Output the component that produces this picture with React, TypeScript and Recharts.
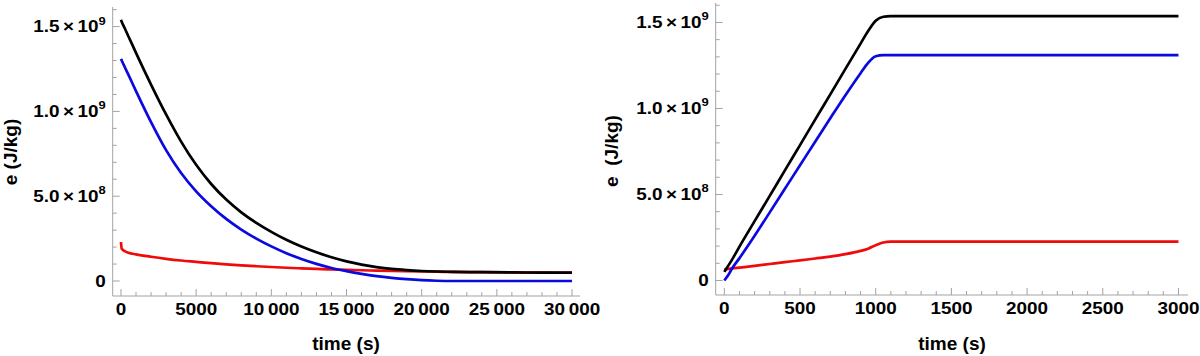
import React from 'react';
import { LineChart, Line, XAxis, YAxis } from 'recharts';

// ---------- data (energy values in units of 1e9 J/kg) ----------
const UNIT = 1e9;

// Left panel: decay over 0 – 30 000 s
const decayTime = [0, 50, 250, 500, 1000, 2000, 3000, 4000, 5000, 6000, 7000, 8000, 9000, 10000, 11000, 12000, 13000, 14000, 15000, 16000, 17000, 18000, 19000, 20000, 21000, 22000, 24000, 26000, 28000, 30000];
const decayBlack = [1.54, 1.528, 1.49, 1.442, 1.345, 1.158, 0.982, 0.822, 0.685, 0.572, 0.48, 0.405, 0.343, 0.29, 0.243, 0.203, 0.169, 0.14, 0.116, 0.097, 0.082, 0.071, 0.064, 0.059, 0.056, 0.054, 0.0522, 0.0507, 0.0497, 0.049];
const decayBlue = [1.31, 1.30, 1.262, 1.215, 1.12, 0.937, 0.772, 0.637, 0.529, 0.441, 0.366, 0.303, 0.25, 0.204, 0.164, 0.13, 0.101, 0.077, 0.058, 0.042, 0.029, 0.019, 0.011, 0.005, 0.0015, 0, 0, 0, 0, 0];
const decayRed = [0.23, 0.19, 0.176, 0.166, 0.157, 0.143, 0.131, 0.121, 0.113, 0.105, 0.098, 0.092, 0.087, 0.0825, 0.0783, 0.0745, 0.0712, 0.0683, 0.0657, 0.0633, 0.0612, 0.0593, 0.0576, 0.0561, 0.0548, 0.0537, 0.0518, 0.0504, 0.0494, 0.0488];

// Right panel: growth over 0 – 3000 s
const growthTime = [0, 25, 50, 100, 200, 300, 400, 500, 600, 700, 800, 900, 950, 1000, 1050, 1100, 1500, 2000, 2500, 3000];
const growthBlack = [0.05, 0.085, 0.12, 0.197, 0.345, 0.492, 0.64, 0.787, 0.935, 1.082, 1.23, 1.377, 1.45, 1.51, 1.533, 1.537, 1.537, 1.537, 1.537, 1.537];
const growthBlue = [0, 0.03, 0.068, 0.13, 0.26, 0.396, 0.533, 0.67, 0.807, 0.943, 1.077, 1.205, 1.265, 1.303, 1.31, 1.31, 1.31, 1.31, 1.31, 1.31];
const growthRed = [0.065, 0.067, 0.07, 0.075, 0.085, 0.096, 0.107, 0.117, 0.128, 0.139, 0.153, 0.172, 0.185, 0.205, 0.221, 0.226, 0.226, 0.226, 0.226, 0.226];

// ticks
const leftXTicks = Array.from({ length: 31 }, (_, i) => i * 1000);
const leftXMajors = [0, 5000, 10000, 15000, 20000, 25000, 30000];
const leftXLabels = ['0', '5000', '10\u2009000', '15\u2009000', '20\u2009000', '25\u2009000', '30\u2009000'];
const leftTopTicks = Array.from({ length: 16 }, (_, i) => i * 2000);
const leftTopMajors = [0, 10000, 20000, 30000];

const rightXTicks = Array.from({ length: 31 }, (_, i) => i * 100);
const rightXMajors = [0, 500, 1000, 1500, 2000, 2500, 3000];
const rightXLabels = ['0', '500', '1000', '1500', '2000', '2500', '3000'];
const rightTopTicks = Array.from({ length: 16 }, (_, i) => i * 200);
const rightTopMajors = [0, 1000, 2000, 3000];

const yTicks = Array.from({ length: 17 }, (_, i) => i * 1e8);
const yMajors = [0, 5e8, 1e9, 1.5e9];
const yMantissa = ['0', '5.0', '1.0', '1.5'];
const yExponent = ['', '8', '9', '9'];

const titleX = 'time (s)';
const titleYLeft = 'e (J/kg)';
const titleYRight = 'e\u00a0 (J/kg)';

// ---------- styling ----------
const FONT = '"Liberation Sans", Arial, Helvetica, sans-serif';
const FRAME = '#a3a3a3';
const SX = 1.18;
const BLACK = '#000000';
const BLUE = '#0a0ae0';
const RED = '#ee0b0b';
const LW = 2.7;

const rows = (t: number[], k: number[], b: number[], r: number[]) =>
  t.map((tt, i) => ({ t: tt, black: k[i] * UNIT, blue: b[i] * UNIT, red: r[i] * UNIT }));
const decayRows = rows(decayTime, decayBlack, decayBlue, decayRed);
const growthRows = rows(growthTime, growthBlack, growthBlue, growthRed);

const majorIndex = (majors: number[], v: number) => majors.findIndex((m) => Math.abs(m - v) < 1e-6 * Math.max(1, Math.abs(m)));

function TickBottom(p: any) {
  const { x, y, payload, majors, labels } = p;
  const idx = majorIndex(majors, payload.value);
  const major = idx >= 0;
  return (
    <g>
      <line x1={x} x2={x} y1={y} y2={y - (major ? 7 : 4)} stroke={FRAME} strokeWidth={1} />
      {major && (
        <text transform={`translate(${x},${y + 19}) scale(${SX},1)`} textAnchor="middle" fontFamily={FONT} fontWeight="bold" fontSize={16} fill="#000">
          {labels[idx]}
        </text>
      )}
    </g>
  );
}

function TickTop(p: any) {
  const { x, y, payload, majors } = p;
  const major = majorIndex(majors, payload.value) >= 0;
  return <line x1={x} x2={x} y1={y} y2={y + (major ? 7 : 4)} stroke={FRAME} strokeWidth={1} />;
}

function TickLeft(p: any) {
  const { x, y, payload } = p;
  const idx = majorIndex(yMajors, payload.value);
  const major = idx >= 0;
  return (
    <g>
      <line x1={x} x2={x + (major ? 7 : 4)} y1={y} y2={y} stroke={FRAME} strokeWidth={1} />
      {major && (
        <text transform={`translate(${x - 7},${y + 5.5}) scale(${SX},1)`} textAnchor="end" fontFamily={FONT} fontWeight="bold" fontSize={16} fill="#000">
          <tspan>{yMantissa[idx]}</tspan>
          {yExponent[idx] !== '' && <tspan dx={3}>×</tspan>}
          {yExponent[idx] !== '' && <tspan dx={3}>10</tspan>}
          {yExponent[idx] !== '' && (
            <tspan dy={-7.5} fontSize={11}>
              {yExponent[idx]}
            </tspan>
          )}
        </text>
      )}
    </g>
  );
}

function TickRight(p: any) {
  const { x, y, payload } = p;
  const major = majorIndex(yMajors, payload.value) >= 0;
  return <line x1={x} x2={x - (major ? 7 : 4)} y1={y} y2={y} stroke={FRAME} strokeWidth={1} />;
}

type PanelProps = {
  data: any[];
  xDomain: [number, number];
  yDomain: [number, number];
  xTicks: number[];
  xMajors: number[];
  xLabels: string[];
  topTicks: number[];
  topMajors: number[];
  margin: { top: number; right: number; bottom: number; left: number };
  xAxisHeight: number;
};

function Panel(props: PanelProps) {
  const { data, xDomain, yDomain, xTicks, xMajors, xLabels, topTicks, topMajors, margin, xAxisHeight } = props;
  return (
    <LineChart width={600} height={356} data={data} margin={margin}>
      <XAxis
        dataKey="t"
        type="number"
        domain={xDomain}
        allowDataOverflow
        ticks={xTicks}
        interval={0}
        tickSize={0}
        tickMargin={0}
        tickLine={false}
        axisLine={{ stroke: FRAME }}
        height={xAxisHeight}
        tick={(p: any) => <TickBottom {...p} majors={xMajors} labels={xLabels} />}
      />
      <XAxis
        xAxisId="top"
        orientation="top"
        dataKey="t"
        type="number"
        domain={xDomain}
        allowDataOverflow
        ticks={topTicks}
        interval={0}
        tickSize={0}
        tickMargin={0}
        tickLine={false}
        axisLine={{ stroke: FRAME }}
        height={0}
        tick={(p: any) => <TickTop {...p} majors={topMajors} />}
      />
      <YAxis
        type="number"
        domain={yDomain}
        allowDataOverflow
        ticks={yTicks}
        interval={0}
        tickSize={0}
        tickMargin={0}
        tickLine={false}
        axisLine={{ stroke: FRAME }}
        width={100}
        tick={(p: any) => <TickLeft {...p} />}
      />
      <YAxis
        yAxisId="right"
        orientation="right"
        type="number"
        domain={yDomain}
        allowDataOverflow
        ticks={yTicks}
        interval={0}
        tickSize={0}
        tickMargin={0}
        tickLine={false}
        axisLine={{ stroke: FRAME }}
        width={0}
        tick={(p: any) => <TickRight {...p} />}
      />
      <Line dataKey="red" type="monotone" stroke={RED} strokeWidth={LW} dot={false} isAnimationActive={false} />
      <Line dataKey="blue" type="monotone" stroke={BLUE} strokeWidth={LW} dot={false} isAnimationActive={false} />
      <Line dataKey="black" type="monotone" stroke={BLACK} strokeWidth={LW} dot={false} isAnimationActive={false} />
    </LineChart>
  );
}

export default function App() {
  const titleStyle = { fontFamily: FONT, fontWeight: 'bold' as const, fontSize: 19, fill: '#000' };
  return (
    <div style={{ position: 'fixed', left: 0, top: 0, width: 1200, height: 356, background: '#fff', overflow: 'hidden' }}>
      <div style={{ position: 'absolute', left: 0, top: 0 }}>
        <Panel
          data={decayRows}
          xDomain={[-550, 30530]}
          yDomain={[-0.0884e9, 1.6156e9]}
          xTicks={leftXTicks}
          xMajors={leftXMajors}
          xLabels={leftXLabels}
          topTicks={leftTopTicks}
          topMajors={leftTopMajors}
          margin={{ top: 7, right: 20, bottom: 0, left: 12.7 }}
          xAxisHeight={60}
        />
      </div>
      <div style={{ position: 'absolute', left: 600, top: 0 }}>
        <Panel
          data={growthRows}
          xDomain={[-57, 3063]}
          yDomain={[-0.0843e9, 1.613e9]}
          xTicks={rightXTicks}
          xMajors={rightXMajors}
          xLabels={rightXLabels}
          topTicks={rightTopTicks}
          topMajors={rightTopMajors}
          margin={{ top: 3, right: 12, bottom: 0, left: 15.7 }}
          xAxisHeight={61}
        />
      </div>
      <svg width={1200} height={356} style={{ position: 'absolute', left: 0, top: 0, pointerEvents: 'none' }}>
        <text x={346} y={350} textAnchor="middle" {...titleStyle}>{titleX}</text>
        <text x={952} y={350} textAnchor="middle" {...titleStyle}>{titleX}</text>
        <text transform="translate(17,152) rotate(-90)" textAnchor="middle" {...titleStyle}>{titleYLeft}</text>
        <text transform="translate(618,151) rotate(-90)" textAnchor="middle" {...titleStyle}>{titleYRight}</text>
      </svg>
    </div>
  );
}
